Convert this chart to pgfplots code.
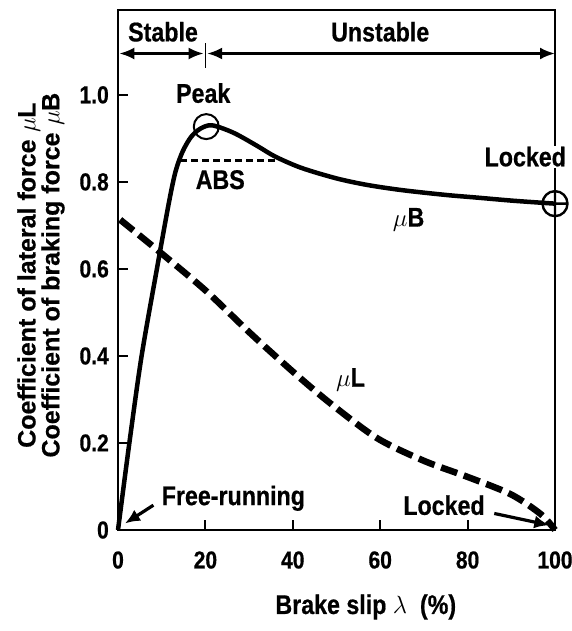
\documentclass[border=0pt]{standalone}
\usepackage{fontspec}
\setmainfont[FakeStretch=0.86, BoldFeatures={FakeBold=0.6}]{Liberation Sans}
\newfontfamily\ylabfont[BoldFeatures={FakeBold=0.6}]{Liberation Sans}
\usepackage{pgfplots}
\pgfplotsset{compat=1.18}
\usetikzlibrary{arrows.meta}
\newcommand\lab{\fontsize{27}{30}\selectfont\bfseries}
\begin{document}
\begin{tikzpicture}
\begin{axis}[
 width=437pt, height=520pt, scale only axis,
 xmin=0, xmax=100, ymin=0, ymax=1.195,
 axis line style={line width=2.6pt},
 xtick={0,20,40,60,80,100}, xticklabels={0,20,40,60,80,100},
 ytick={0,0.2,0.4,0.6,0.8,1.0}, yticklabels={0,0.2,0.4,0.6,0.8,1.0},
 xtick pos=left, ytick pos=left, tick align=inside,
 major tick length=10pt,
 tick style={line width=2pt, black},
 tick label style={font=\fontsize{24.5}{24}\selectfont\bfseries, inner sep=0pt},
 xticklabel style={anchor=center, yshift=-30pt},
 yticklabel style={anchor=east, xshift=-9pt},
 clip=false,
]
\coordinate (bl) at (rel axis cs:0,0);
\coordinate (tr) at (rel axis cs:1,1);
% mu B
\addplot[black, line width=4.5pt, smooth, tension=0.5] coordinates {
(0,0) (2.6,0.2) (5.4,0.4) (8.9,0.6) (11.7,0.755) (13.2,0.825) (14.8,0.87) (16.7,0.903)
(18.8,0.922) (21.5,0.93) (26.4,0.913) (31.8,0.883) (36,0.858) (42,0.832) (50,0.808) (57,0.793)
(65,0.781) (75,0.77) (82,0.764) (90,0.757) (97,0.752) (100,0.75)};
% mu L
\addplot[black, line width=6.5pt, dash pattern=on 17pt off 7pt, smooth, tension=0.5] coordinates {
(0.5,0.713) (10.4,0.632) (20.3,0.548) (30.3,0.452) (40,0.364) (48.6,0.291) (59.3,0.211)
(70,0.159) (80,0.122) (89.9,0.082) (96.8,0.036) (100,0)};
% ABS level
\addplot[black, line width=2.8pt, dash pattern=on 7pt off 4pt] coordinates {(14.3,0.85) (36,0.85)};
% circles
\addplot[only marks, mark=o, mark size=12.5pt, mark options={line width=2pt, black}] coordinates {(20.2,0.927)};
\addplot[only marks, mark=oplus, mark size=12.5pt, mark options={line width=2.4pt, black}] coordinates {(100,0.75)};

\node[font=\lab] at (axis cs:10.3,1.145) {Stable};
\node[font=\lab] at (axis cs:60,1.145) {Unstable};
\draw[line width=2.6pt, {Latex[length=15pt,width=12pt]}-{Latex[length=15pt,width=12pt]}] (axis cs:0.3,1.095) -- (axis cs:19.6,1.095);
\draw[line width=2.6pt, {Latex[length=15pt,width=12pt]}-{Latex[length=15pt,width=12pt]}] (axis cs:20.4,1.095) -- (axis cs:100,1.095);
\draw[line width=1.5pt] (axis cs:20,1.062) -- (axis cs:20,1.12);
\node[font=\lab] at (axis cs:19.5,1.004) {Peak};
\node[font=\lab] at (axis cs:23.4,0.805) {ABS};
\node[font=\lab, fill=white, inner sep=1pt] at (axis cs:93.2,0.858) {Locked};
\node[font=\lab] at (axis cs:66.5,0.713) {$\mu$B};
\node[font=\lab] at (axis cs:53.2,0.345) {$\mu$L};
\node[font=\lab] at (axis cs:26.4,0.073) {Free-running};
\draw[line width=3.2pt, -{Latex[length=15pt,width=13pt]}] (axis cs:8.1,0.057) -- (axis cs:1.6,0.015);
\node[font=\lab] at (axis cs:74.6,0.057) {Locked};
\draw[line width=3.2pt, -{Latex[length=15pt,width=13pt]}] (axis cs:86.1,0.038) -- (axis cs:98.7,0.011);

\node[rotate=90, align=center, font={\ylabfont\fontsize{25}{21.5}\selectfont\bfseries}] at ([xshift=-77pt]rel axis cs:0,0.49) {Coefficient of lateral force $\mu$L\\Coefficient of braking force $\mu$B};
\node[font=\lab] at ([yshift=-77pt]axis cs:56.7,0) {Brake slip $\lambda$ \ (\%)};
\end{axis}
\pgfresetboundingbox
\path ([shift={(-118pt,-101pt)}]bl) rectangle ([shift={(17pt,10pt)}]tr);
\end{tikzpicture}
\end{document}
